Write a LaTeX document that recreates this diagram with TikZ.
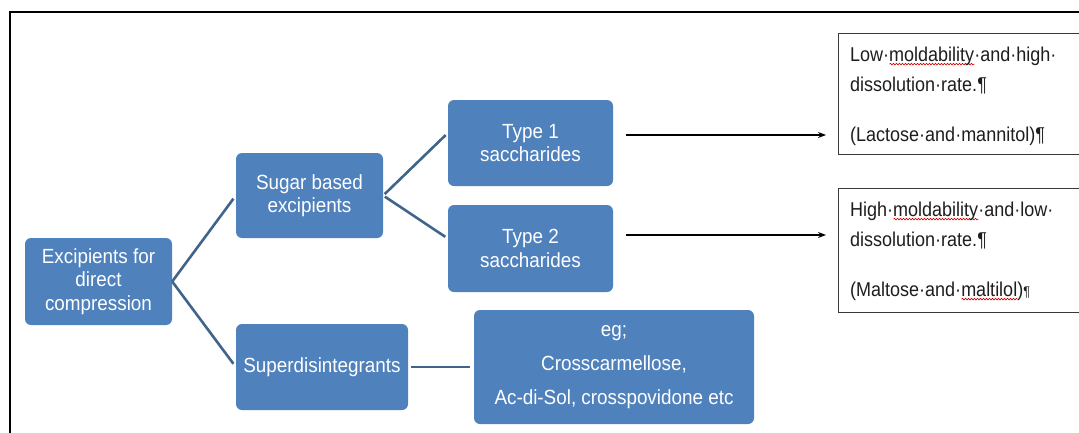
\documentclass[tikz,border=0pt]{standalone}
\usepackage{fontspec}
\setmainfont[FakeStretch=0.92]{Liberation Sans}
\newfontfamily\notefont[FakeStretch=0.9]{Liberation Sans}
\usetikzlibrary{arrows.meta,decorations.pathmorphing}
\definecolor{boxblue}{HTML}{4F81BD}
\definecolor{linkblue}{HTML}{41648C}
\definecolor{inkgray}{HTML}{1E1E1E}
\definecolor{framegray}{HTML}{3A3A3A}

% red wavy spell-check mark under a word
\newsavebox\wavebox
\newcommand\redwave[1]{\sbox\wavebox{#1}\leavevmode\rlap{\raisebox{-3.5pt}[0pt][0pt]{\tikz[x=1pt,y=1pt]\draw[red!85!black, line width=0.6pt, decorate, decoration={snake, amplitude=0.8pt, segment length=3pt}] (0,0) -- (\wd\wavebox,0);}}\usebox\wavebox}

\begin{document}
\begin{tikzpicture}[x=1pt,y=-1pt,
  blk/.style={fill=boxblue, rounded corners=6pt, text=white, align=center,
    font=\fontsize{20.5}{23.5}\selectfont, inner sep=0pt},
  link/.style={draw=linkblue, line width=2.6pt},
  pointer/.style={draw=black, line width=1.2pt, -{Stealth[length=8pt,width=6pt]}},
  notebox/.style={draw=framegray, line width=1.3pt, anchor=north west, inner sep=0pt},
  notetext/.style={anchor=north west, align=left, inner sep=0pt, text=inkgray,
    font=\notefont\fontsize{20}{30}\selectfont}]

\useasboundingbox (0,0) rectangle (1079,432);
\clip (0,0) rectangle (1079,432);
\fill[white] (0,0) rectangle (1079,432);

% outer frame
\draw[line width=2pt] (10,433) -- (10,12) -- (1080,12);

% hierarchy boxes
\node[blk, minimum width=147pt, minimum height=87pt] (exc) at (98.5,281.5)
  {Excipients for\\direct\\compression};
\node[blk, minimum width=147pt, minimum height=85pt] (sug) at (309.5,195.5)
  {Sugar based\\excipients};
\node[blk, minimum width=172pt, minimum height=86pt] (sup) at (322,367)
  {Superdisintegrants};
\node[blk, minimum width=165pt, minimum height=86pt] (t1) at (530.5,143)
  {Type 1\\saccharides};
\node[blk, minimum width=165pt, minimum height=87pt] (t2) at (530.5,248.5)
  {Type 2\\saccharides};
\node[blk, minimum width=280pt, minimum height=114pt,
  font=\fontsize{20.5}{34}\selectfont] (eg) at (614,367)
  {eg;\\Crosscarmellose,\\Ac-di-Sol, crosspovidone etc};

% tree connectors
\draw[link, shorten >=4pt] (exc.east) -- (sug.west);
\draw[link, shorten >=4pt] (exc.east) -- (sup.west);
\draw[link, shorten <=2pt, shorten >=3pt] (sug.east) -- ([yshift=10pt]t1.west);
\draw[link, shorten <=2pt, shorten >=3pt] (sug.east) -- ([yshift=10pt]t2.west);
\draw[link, shorten <=3pt, shorten >=4pt] (sup.east) -- (eg.west);

% property boxes
\node[notebox, minimum width=260pt, minimum height=121pt] (r1) at (838,33) {};
\node[notetext] (r1t) at (850,47)
  {Low·\redwave{moldability}·and·high·\\dissolution·rate.¶\\[20pt](Lactose·and·mannitol)¶};
\node[notebox, minimum width=260pt, minimum height=124pt] (r2) at (838,188) {};
\node[notetext] (r2t) at (850,202)
  {High·\redwave{moldability}·and·low·\\dissolution·rate.¶\\[20pt](Maltose·and·\redwave{maltilol}){\fontsize{14}{14}\selectfont¶}};

% arrows to the property boxes
\coordinate (a1) at ([xshift=13pt,yshift=8pt]t1.east);
\coordinate (a2) at ([xshift=13pt,yshift=13.5pt]t2.east);
\draw[pointer, shorten >=12pt] (a1) -- (a1 -| r1.west);
\draw[pointer, shorten >=12pt] (a2) -- (a2 -| r2.west);
\end{tikzpicture}
\end{document}
